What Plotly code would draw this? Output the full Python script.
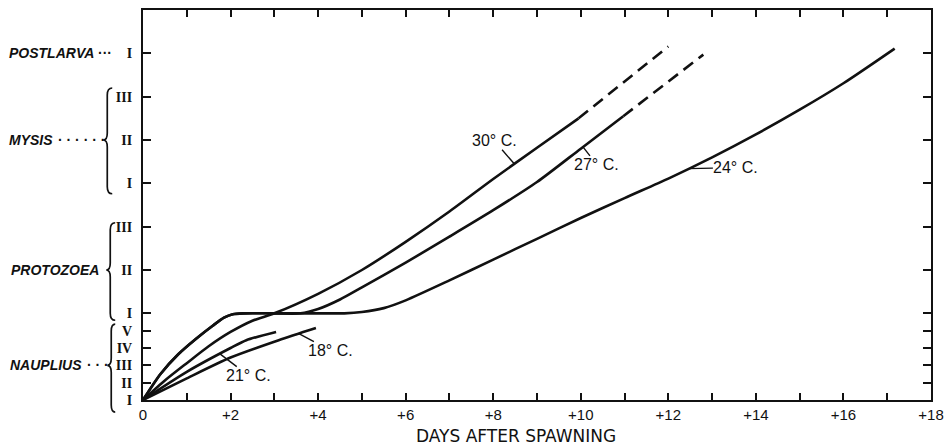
import plotly.graph_objects as go

# ---------------- data (days after spawning, stage units) ----------------
# stage scale: Nauplius I..V = 0,0.4,0.8,1.2,1.6 ; Protozoea I..III = 2,3,4 ;
# Mysis I..III = 5,6,7 ; Postlarva I = 8
stage_vals = [0, 0.4, 0.8, 1.2, 1.6, 2, 3, 4, 5, 6, 7, 8]
stage_text = ["I", "II", "III", "IV", "V", "I", "II", "III", "I", "II", "III", "I"]

day_ticks = list(range(0, 19))
day_text = ["0" if d == 0 else ("+%d" % d if d % 2 == 0 else "") for d in day_ticks]

# 30 C
t30 = [0, 0.5, 1.0, 1.5, 2.0, 2.5, 3.0, 4.0, 5.0, 6.0, 7.0, 8.0, 9.0, 9.95]
s30 = [0, 0.45, 0.85, 1.24, 1.57, 1.83, 2.0, 2.45, 3.0, 3.65, 4.35, 5.1, 5.82, 6.5]
t30_dash = [9.95, 12.0]
s30_dash = [6.5, 8.16]

# 27 C
t27 = [0, 0.4, 0.8, 1.22, 1.6, 1.85, 2.05, 2.3, 3.0, 3.6, 4.0, 4.5, 5.0, 6.0, 7.0, 8.0, 9.0, 10.0, 10.97]
s27 = [0, 0.6, 1.05, 1.42, 1.72, 1.9, 1.98, 2.0, 2.0, 2.0, 2.1, 2.32, 2.6, 3.17, 3.77, 4.38, 5.03, 5.8, 6.55]
t27_dash = [10.97, 12.8]
s27_dash = [6.55, 7.97]

# 24 C
t24 = [0, 0.4, 0.8, 1.22, 1.6, 1.85, 2.05, 2.3, 3.0, 4.0, 4.6, 5.0, 5.5, 6.0, 7.0, 8.0, 9.0, 10.0,
       11.0, 12.0, 13.0, 14.0, 15.0, 16.0, 17.17]
s24 = [0, 0.6, 1.05, 1.42, 1.72, 1.9, 1.98, 2.0, 2.0, 2.0, 2.0, 2.03, 2.12, 2.3, 2.76, 3.24, 3.72, 4.2,
       4.66, 5.11, 5.6, 6.13, 6.7, 7.31, 8.11]

# 21 C
t21 = [0, 1.0, 2.0, 2.36, 3.04]
s21 = [0, 0.65, 1.2, 1.38, 1.57]

# 18 C
t18 = [0, 1.0, 2.0, 3.1, 3.95]
s18 = [0, 0.5, 0.98, 1.38, 1.66]

# --------------------------------------------------------------------------
INK = "#111111"
LW = 2.6
YMAX = 9.0
XMAX = 18.0

fig = go.Figure()


def add_line(x, y, dash="solid"):
    fig.add_trace(go.Scatter(
        x=x, y=y, mode="lines",
        line=dict(color=INK, width=LW, shape="spline", smoothing=0.7, dash=dash),
        hoverinfo="skip", showlegend=False))


add_line(t30, s30)
add_line(t30_dash, s30_dash, dash="12px,7px")
add_line(t27, s27)
add_line(t27_dash, s27_dash, dash="12px,7px")
add_line(t24, s24)
add_line(t21, s21)
add_line(t18, s18)

LABEL_FONT = dict(family="Liberation Sans", size=16, color=INK)


def temp_label(text, x, y, ax, ay):
    fig.add_annotation(x=x, y=y, xref="x", yref="y", text=text, showarrow=True,
                       arrowhead=0, arrowwidth=1.4, arrowcolor=INK, ax=ax, ay=ay,
                       font=LABEL_FONT, borderpad=0, standoff=0)


temp_label("30° C.", 8.48, 5.45, -20, -23)
temp_label("27° C.", 10.05, 5.84, 14, 18)
temp_label("24° C.", 12.47, 5.34, 47, -1)
temp_label("18° C.", 3.56, 1.53, 32, 17)
temp_label("21° C.", 1.75, 1.07, 29, 22)

# ----- page geometry -----
PLOT_L, PLOT_R, PLOT_T, PLOT_B = 143, 937, 8, 400
W, H = 952, 445


def px2paper(px):
    return (px - PLOT_L) / (PLOT_R - PLOT_L)


def py2paper(py):
    return (PLOT_B - py) / (PLOT_B - PLOT_T)


GROUP_FONT = dict(family="Liberation Sans", size=14, color=INK)
DOT_FONT = dict(family="Liberation Sans", size=14, color=INK)


def group_label(word, word_right_px, dots, dots_left_px, stage):
    fig.add_annotation(x=px2paper(word_right_px), y=stage / YMAX, xref="paper", yref="paper",
                       xanchor="right", yanchor="middle", text="<b><i>" + word + "</i></b>",
                       showarrow=False, font=GROUP_FONT)
    if dots:
        fig.add_annotation(x=px2paper(dots_left_px), y=stage / YMAX, xref="paper", yref="paper",
                           xanchor="left", yanchor="middle", text="<b>" + dots + "</b>",
                           showarrow=False, font=DOT_FONT)


group_label("POSTLARVA", 96, "···", 96, 8)
group_label("MYSIS", 54, "· · · · · ·", 55, 6)
group_label("PROTOZOEA", 101, "", 0, 3)
group_label("NAUPLIUS", 84, "· · ·", 85, 0.8)


def brace(xl_px, xm_px, xr_px, top, bot, mid):
    xl, xm, xr = px2paper(xl_px), px2paper(xm_px), px2paper(xr_px)
    yt, yb, ym = top / YMAX, bot / YMAX, mid / YMAX
    d = 0.018
    path = (f"M {xr},{yt} Q {xm},{yt} {xm},{yt - d} L {xm},{ym + d} "
            f"Q {xm},{ym} {xl},{ym} Q {xm},{ym} {xm},{ym - d} "
            f"L {xm},{yb + d} Q {xm},{yb} {xr},{yb}")
    fig.add_shape(type="path", path=path, xref="paper", yref="paper",
                  line=dict(color=INK, width=1.7))


brace(103, 107, 112, 7.2, 4.76, 6.0)
brace(106, 110, 115, 4.09, 1.84, 3.0)
brace(107, 111, 115, 1.75, -0.28, 0.8)

# x axis title
fig.add_annotation(x=px2paper(519), y=py2paper(436), xref="paper", yref="paper",
                   xanchor="center", yanchor="middle",
                   text="DAYS AFTER SPAWNING", showarrow=False,
                   font=dict(family="DejaVu Sans", size=17, color=INK))

fig.update_layout(
    width=W, height=H,
    margin=dict(l=PLOT_L, r=W - PLOT_R, t=PLOT_T, b=H - PLOT_B),
    paper_bgcolor="white", plot_bgcolor="white",
    showlegend=False,
    xaxis=dict(range=[0, XMAX], tickmode="array", tickvals=day_ticks, ticktext=day_text,
               ticks="inside", ticklen=7, tickwidth=1.5, tickcolor=INK,
               showline=True, linewidth=2, linecolor=INK, mirror="ticks",
               showgrid=False, zeroline=False,
               tickfont=dict(family="Liberation Sans", size=15, color=INK)),
    yaxis=dict(range=[0, YMAX], tickmode="array", tickvals=stage_vals, ticktext=stage_text,
               ticks="inside", ticklen=8, tickwidth=1.5, tickcolor=INK,
               showline=True, linewidth=2, linecolor=INK, mirror="ticks",
               showgrid=False, zeroline=False, ticklabelstandoff=6,
               tickfont=dict(family="Liberation Serif", size=14, color=INK, weight="bold")),
)

fig.write_html("out.html",
               config={"displayModeBar": False},
               post_script="document.body.style.margin='0';document.body.style.overflow='hidden';")
